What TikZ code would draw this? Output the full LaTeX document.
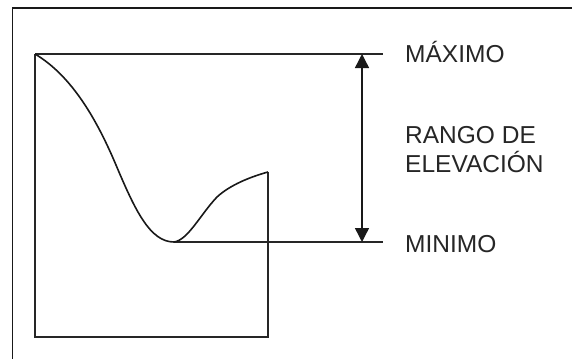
\documentclass[tikz,border=0pt]{standalone}
\usepackage{fontspec}
\setmainfont{Liberation Sans}
\usetikzlibrary{arrows.meta}
\begin{document}
\begin{tikzpicture}[x=1pt,y=-1pt,
  frame/.style={line width=1pt,draw=black!90},
  thin/.style={line width=1.1pt,draw=black!85},
  curve/.style={line width=1.6pt,draw=black!90},
  lbl/.style={anchor=base west,inner sep=0pt,font=\fontsize{24.5}{29}\selectfont,text=black!85}]
\useasboundingbox (0,0) rectangle (572,359);
\fill[white] (0,0) rectangle (572,359);
% outer frame
\coordinate (otl) at (12,8);
\coordinate (otr) at (572,8);
\coordinate (obl) at (12,359);
\draw[line width=2pt,draw=black!90] (otl) -- (otr);
\draw[frame] (otl) -- (obl);
% inner box
\coordinate (tl) at (35,54);
\coordinate (bl) at (35,337);
\coordinate (br) at (268,337);
\coordinate (rt) at (268,172);
\coordinate (mn) at (174,242);
\coordinate (maxend) at (383,54);
\coordinate (minend) at (383,242);
\coordinate (atop) at (362,54);
\coordinate (abot) at (362,242);
\draw[thin] (tl) -- (maxend);
\draw[thin] (rt) -- (br) -- (bl) -- (tl);
\draw[thin] (mn) -- (minend);
\draw[curve] (tl) .. controls (72,76) and (97,120) .. (116,165)
  .. controls (135,210) and (150,242) .. (mn);
\draw[curve] (mn) .. controls (188,240) and (200,215) .. (217,197)
  .. controls (230,185) and (250,177) .. (rt);
\draw[line width=1.4pt,draw=black!90,{Triangle[length=14pt,width=14pt]}-{Triangle[length=14pt,width=14pt]}] (atop) -- (abot);
\node[lbl] (max) at (405,62) {MÁXIMO};
\node[lbl] (rango) at (405,143) {RANGO DE};
\node[lbl] (elev) at (405,172) {ELEVACIÓN};
\node[lbl] (min) at (405,252) {MINIMO};
\end{tikzpicture}
\end{document}
